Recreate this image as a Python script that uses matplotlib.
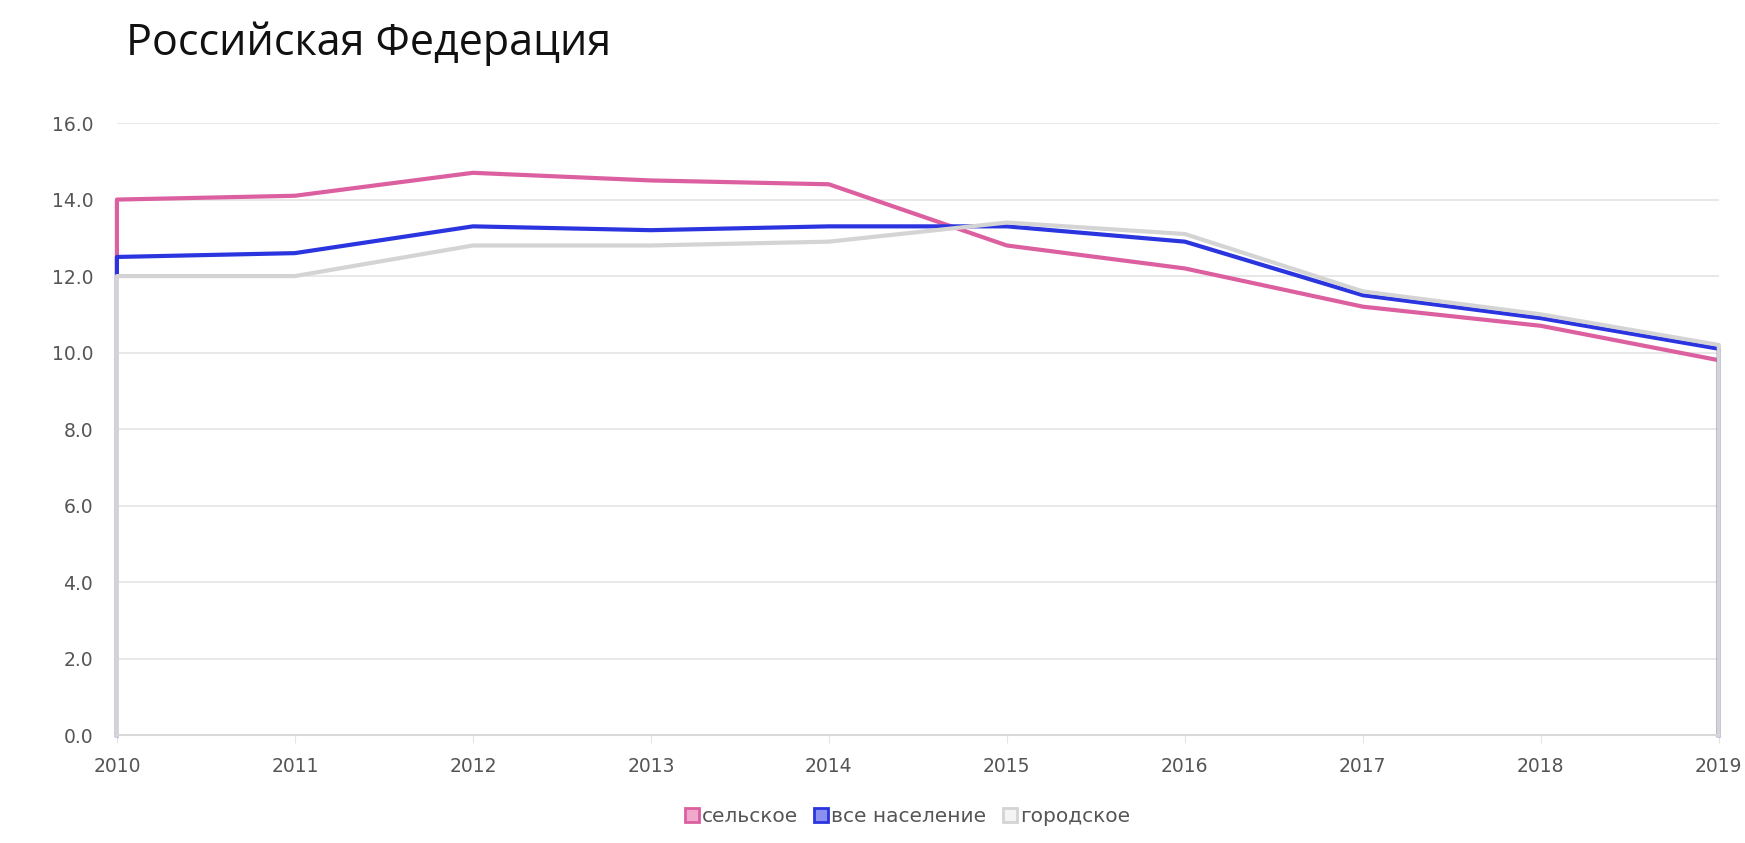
import numpy as np
import matplotlib.pyplot as plt
from matplotlib.lines import Line2D

years = [2010, 2011, 2012, 2013, 2014, 2015, 2016, 2017, 2018, 2019]
rural = [14.0, 14.1, 14.7, 14.5, 14.4, 12.8, 12.2, 11.2, 10.7, 9.8]
total = [12.5, 12.6, 13.3, 13.2, 13.3, 13.3, 12.9, 11.5, 10.9, 10.1]
urban = [12.0, 12.0, 12.8, 12.8, 12.9, 13.4, 13.1, 11.6, 11.0, 10.2]

series_names = ["сельское", "все население", "городское"]
colors = ["#dc5fa0", "#2a35e0", "#d4d4d4"]
light = ["#f0a8cc", "#8a90f0", "#f4f4f4"]

plt.rcParams['font.family'] = ['DejaVu Sans']

fig = plt.figure(figsize=(17.45, 8.43), dpi=100)
ax = fig.add_axes([0.067, 0.128, 0.918, 0.726])

# each series is drawn down to the baseline at both ends, like the source chart
for vals, c in zip([rural, total, urban], colors):
    xs = [years[0]] + years + [years[-1]]
    ys = [0] + vals + [0]
    ax.plot(xs, ys, color=c, lw=3.0, solid_joinstyle='round', clip_on=False)

ax.set_xlim(2010, 2019)
ax.set_ylim(0, 16)
ax.set_yticks(np.arange(0, 16.1, 2))
ax.set_yticklabels([f"{v:.1f}" for v in np.arange(0, 16.1, 2)])
ax.set_xticks(years)
ax.set_xticklabels([str(y) for y in years])

ax.grid(axis='y', color='#e4e4e4', lw=1.2)
ax.set_axisbelow(True)
for s in ['top', 'right', 'left']:
    ax.spines[s].set_visible(False)
ax.spines['bottom'].set_color('#d8d8d8')
ax.spines['bottom'].set_linewidth(1.5)

ax.tick_params(axis='y', length=0, pad=17, labelsize=13.5, labelcolor='#555555')
ax.tick_params(axis='x', length=6, color='#e4e4e4', pad=10, labelsize=13.5,
               labelcolor='#555555')

fig.text(0.072, 0.948, "Российская Федерация", fontsize=31, color='#111111',
         ha='left', va='center', family='Open Sans')

handles = [Line2D([], [], ls='none', marker='s', markersize=9.5,
                  markerfacecolor=lc, markeredgecolor=c, markeredgewidth=2)
           for c, lc in zip(colors, light)]
fig.legend(handles, series_names, loc='center', bbox_to_anchor=(0.52, 0.031),
           ncol=3, frameon=False, fontsize=14.5, handlelength=0.7,
           handletextpad=0.15, columnspacing=0.8, labelcolor='#555555')

fig.savefig("out.png", dpi=100)
